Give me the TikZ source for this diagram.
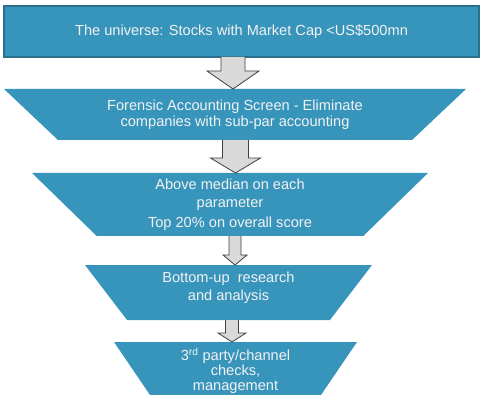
\documentclass[tikz,border=0pt]{standalone}
\usepackage{fontspec}
\setmainfont{Liberation Sans}
\usetikzlibrary{shapes.geometric,calc}
\definecolor{stageblue}{HTML}{3795BC}
\definecolor{stageedge}{HTML}{2C6F8C}
\definecolor{arrowgrey}{HTML}{D9D9D9}
\definecolor{arrowedge}{HTML}{404040}
\definecolor{stagetext}{HTML}{F2F2F2}

\newcommand{\stagearrow}[6]{%
  \draw[blockarrow] let \p1=(#1.270), \p2=(#2.90) in
    (#3pt-#4pt,\y1) -- (#3pt-#4pt,\y2+#6pt) -- (#3pt-#5pt,\y2+#6pt) -- (#3pt,\y2)
    -- (#3pt+#5pt,\y2+#6pt) -- (#3pt+#4pt,\y2+#6pt) -- (#3pt+#4pt,\y1);
}

\begin{document}
\begin{tikzpicture}[x=1pt,y=-1pt,
  stage/.style={trapezium,shape border rotate=180,trapezium stretches body,
    fill=stageblue,text=stagetext,align=center,inner sep=0pt,outer sep=0pt,
    font=\fontsize{14.6}{16}\selectfont},
  blockarrow/.style={fill=arrowgrey,draw=arrowedge,line width=.8pt,line join=miter}]
\useasboundingbox (0,0) rectangle (484,395);
\node[fill=stageblue,draw=stageedge,line width=2pt,text=stagetext,outer sep=0pt,
  minimum width=475pt,minimum height=51pt,font=\fontsize{14.6}{16}\selectfont]
  (universe) at (241.5,31.5) {The universe: Stocks with Market Cap <US\$500mn};
\node[stage,trapezium angle=28.74,minimum width=462pt,minimum height=51pt]
  (forensic) at (235,114.5) {Forensic Accounting Screen - Eliminate\\companies with sub-par accounting};
\node[stage,trapezium angle=38.57,minimum width=396pt,minimum height=63pt,
  font=\fontsize{14.6}{18}\selectfont]
  (median) at (230,204.5) {Above median on each\\parameter\\[2pt]Top 20\% on overall score};
\node[stage,trapezium angle=43.98,minimum width=287pt,minimum height=55pt,
  font=\fontsize{14.6}{18}\selectfont,text depth=12pt]
  (research) at (228.5,292.5) {Bottom-up\ \ research\\and analysis};
\node[stage,trapezium angle=49.2,minimum width=243pt,minimum height=58pt,
  font=\fontsize{14.6}{15}\selectfont]
  (checks) at (235.5,371) {3\textsuperscript{rd} party/channel\\checks,\\management};
\stagearrow{universe}{forensic}{233}{12}{26}{18}
\stagearrow{forensic}{median}{235.5}{13}{25}{15}
\stagearrow{median}{research}{235}{6}{12}{10}
\stagearrow{research}{checks}{232}{6.5}{14}{9}
\end{tikzpicture}
\end{document}
